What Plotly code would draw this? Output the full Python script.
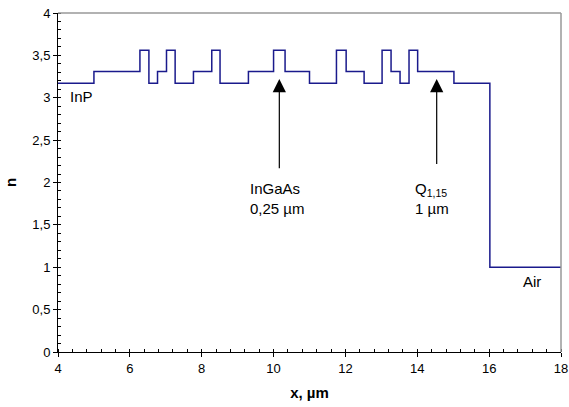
import plotly.graph_objects as go

# layer boundaries (µm) and refractive index of each layer
edges = [4, 5.0, 6.28, 6.53, 6.77, 7.02, 7.26, 7.77, 8.28, 8.51, 9.30, 10.0, 10.32,
         11.0, 11.75, 12.02, 12.52, 13.02, 13.27, 13.52, 13.77, 14.01, 15.02, 16.02, 18]
n_levels = [3.17, 3.31, 3.56, 3.17, 3.31, 3.56, 3.17, 3.31, 3.56, 3.17, 3.31, 3.56,
            3.31, 3.17, 3.56, 3.31, 3.17, 3.56, 3.31, 3.17, 3.56, 3.31, 3.17, 1.0]

x_ticks = [4, 6, 8, 10, 12, 14, 16, 18]
y_ticks = [0, 0.5, 1, 1.5, 2, 2.5, 3, 3.5, 4]
y_tick_labels = ["0", "0,5", "1", "1,5", "2", "2,5", "3", "3,5", "4"]

xs = edges
ys = n_levels + [n_levels[-1]]

font = "Liberation Sans, Arial, sans-serif"

fig = go.Figure()
fig.add_trace(go.Scatter(x=xs, y=ys, mode="lines", line=dict(color="#1a1a8c", width=1.5, shape="hv"),
                         hoverinfo="skip", showlegend=False))

# arrows
for xa, tail in [(10.16, 2.15), (14.54, 2.2)]:
    fig.add_annotation(x=xa, y=3.22, ax=xa, ay=tail, xref="x", yref="y", axref="x", ayref="y",
                       showarrow=True, arrowhead=2, arrowsize=2.2, arrowwidth=1.2, arrowcolor="black", text="")

labels = [
    (9.29, 1.81, "InGaAs<br>0,25 µm"),
    (13.88, 1.81, "Q<sub>1,15</sub><br>1 µm"),
    (4.28, 3.01, "InP"),
    (16.89, 0.83, "Air"),
]
for xl, yl, t in labels:
    fig.add_annotation(x=xl, y=yl, xref="x", yref="y", text=t, showarrow=False,
                       xanchor="left", yanchor="middle", align="left",
                       font=dict(family=font, size=15, color="black"))

fig.update_xaxes(range=[4, 18], tickvals=x_ticks, ticktext=[str(v) for v in x_ticks],
                 showline=True, linecolor="black", linewidth=1, mirror=False, automargin=False,
                 ticks="outside", ticklen=4, tickcolor="black", showgrid=False, zeroline=False,
                 minor=dict(dtick=0.4, ticks="inside", ticklen=3, tickcolor="black", showgrid=False),
                 title=dict(text="<b>x, µm</b>", font=dict(family=font, size=15, color="black"), standoff=12),
                 tickfont=dict(family=font, size=13, color="black"))
fig.update_yaxes(range=[0, 4], tickvals=y_ticks, ticktext=y_tick_labels,
                 showline=True, linecolor="black", linewidth=1, automargin=False,
                 ticks="outside", ticklen=4, tickcolor="black", showgrid=False, zeroline=False,
                 minor=dict(dtick=0.1, ticks="inside", ticklen=3, tickcolor="black", showgrid=False),
                 title=dict(text="<b>n</b>", font=dict(family=font, size=15, color="black"), standoff=12),
                 tickfont=dict(family=font, size=13, color="black"))

# top and right frame in gray
fig.add_shape(type="line", xref="paper", yref="paper", x0=0, x1=1, y0=1, y1=1,
              line=dict(color="#999999", width=1.5))
fig.add_shape(type="line", xref="paper", yref="paper", x0=1, x1=1, y0=0, y1=1,
              line=dict(color="#999999", width=1.5))

fig.update_layout(width=569, height=407, margin=dict(l=58, r=8, t=13, b=55),
                  plot_bgcolor="white", paper_bgcolor="white",
                  font=dict(family=font, size=13, color="black"))

fig.write_html("out.html", config={"displayModeBar": False},
               post_script="document.body.style.margin='0';document.body.style.overflow='hidden';")
